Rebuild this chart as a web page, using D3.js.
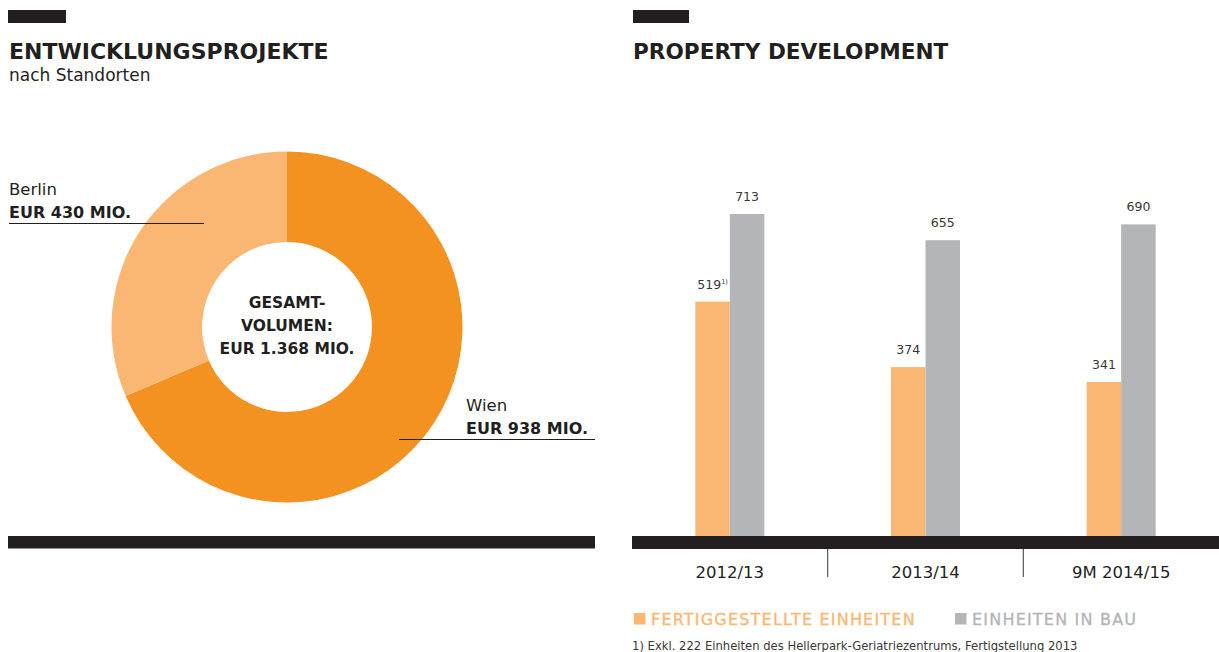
<!DOCTYPE html>
<html>
<head>
<meta charset="utf-8">
<script src="https://cdn.jsdelivr.net/npm/d3@7"></script>
<style>
  html, body { margin: 0; padding: 0; background: #fff; }
  svg { display: block; }
  text { font-family: "DejaVu Sans", sans-serif; fill: #231F20; }
</style>
</head>
<body>
<svg id="chart" width="1219" height="652"></svg>
<script>
// Development volume by location (EUR million)
const locations = ["Wien", "Berlin"];
const volumes = [938, 430];
const totalLabel = "EUR 1.368 MIO.";

// Property development units per period
const periods = ["2012/13", "2013/14", "9M 2014/15"];
const seriesNames = ["FERTIGGESTELLTE EINHEITEN", "EINHEITEN IN BAU"];
const completedUnits = [519, 374, 341];
const unitsUnderConstruction = [713, 655, 690];
const footnote = "1) Exkl. 222 Einheiten des Hellerpark-Geriatriezentrums, Fertigstellung 2013";

const DARK = "#231F20";
const ORANGE = "#F39220";
const LIGHT_ORANGE = "#F9B773";
const GREY = "#B4B5B9";

const svg = d3.select("#chart");

/* ---------- left panel: donut ---------- */
const left = svg.append("g");
left.append("rect").attr("x", 8).attr("y", 10).attr("width", 58).attr("height", 13).attr("fill", DARK);
left.append("text").attr("x", 9).attr("y", 59)
  .style("font-size", "22px").style("font-weight", "bold")
  .text("ENTWICKLUNGSPROJEKTE");
left.append("text").attr("x", 9).attr("y", 81)
  .style("font-size", "17px")
  .text("nach Standorten");

const cx = 287, cy = 327;
const pie = d3.pie().sort(null).value(d => d.value);
const arc = d3.arc().innerRadius(85).outerRadius(175.5);
const donutData = locations.map((name, i) => ({ name, value: volumes[i] }));
const colorScale = d3.scaleOrdinal().domain(locations).range([ORANGE, LIGHT_ORANGE]);

const donut = left.append("g").attr("transform", `translate(${cx},${cy})`);
donut.selectAll("path")
  .data(pie(donutData))
  .join("path")
  .attr("d", arc)
  .attr("fill", d => colorScale(d.data.name));

// centre total
const centreLines = ["GESAMT-", "VOLUMEN:", totalLabel];
donut.selectAll("text.centre")
  .data(centreLines)
  .join("text")
  .attr("class", "centre")
  .attr("text-anchor", "middle")
  .attr("x", 0)
  .attr("y", (d, i) => -19 + i * 23)
  .style("font-size", "15.5px").style("font-weight", "bold")
  .text(d => d);

// slice labels with leader rules
const fmt = v => `EUR ${v} MIO.`;
const labelSpec = [
  { name: "Berlin", x: 9, y: 195, line: [9, 204, 223.5] },
  { name: "Wien", x: 466, y: 411, line: [399, 595, 439.5] }
];
labelSpec.forEach(s => {
  const v = volumes[locations.indexOf(s.name)];
  left.append("text").attr("x", s.x).attr("y", s.y).style("font-size", "16.5px").text(s.name);
  left.append("text").attr("x", s.x).attr("y", s.y + 23)
    .style("font-size", "16px").style("font-weight", "bold").text(fmt(v));
  left.append("line")
    .attr("x1", s.line[0]).attr("x2", s.line[1])
    .attr("y1", s.line[2]).attr("y2", s.line[2])
    .attr("stroke", DARK).attr("stroke-width", 1);
});

left.append("rect").attr("x", 8).attr("y", 536).attr("width", 587).attr("height", 12.5).attr("fill", DARK);

/* ---------- right panel: grouped bars ---------- */
const right = svg.append("g");
right.append("rect").attr("x", 633).attr("y", 10).attr("width", 56).attr("height", 13).attr("fill", DARK);
right.append("text").attr("x", 633).attr("y", 59)
  .style("font-size", "21.6px").style("font-weight", "bold")
  .text("PROPERTY DEVELOPMENT");

const baseY = 536;
const x0 = d3.scaleBand().domain(periods).range([632, 1219]).padding(0);
const x1 = d3.scaleBand().domain(seriesNames).range([0, 69]);
const y = d3.scaleLinear().domain([0, 713]).range([baseY, 214]);
const seriesColor = d3.scaleOrdinal().domain(seriesNames).range([LIGHT_ORANGE, GREY]);

const rows = periods.map((p, i) => ({
  period: p,
  values: [
    { key: seriesNames[0], value: completedUnits[i], note: i === 0 ? "1)" : null },
    { key: seriesNames[1], value: unitsUnderConstruction[i], note: null }
  ]
}));

const groups = right.selectAll("g.period")
  .data(rows)
  .join("g")
  .attr("class", "period")
  .attr("transform", d => `translate(${x0(d.period) + x0.bandwidth() / 2 - 34.5},0)`);

groups.selectAll("rect")
  .data(d => d.values)
  .join("rect")
  .attr("x", d => x1(d.key))
  .attr("width", x1.bandwidth())
  .attr("y", d => y(d.value))
  .attr("height", d => baseY - y(d.value))
  .attr("fill", d => seriesColor(d.key));

const valueLabels = groups.selectAll("text.value")
  .data(d => d.values)
  .join("text")
  .attr("class", "value")
  .attr("text-anchor", "middle")
  .attr("x", d => x1(d.key) + x1.bandwidth() / 2)
  .attr("y", d => y(d.value) - 13)
  .style("font-size", "12.5px")
  .style("fill", "#3a3637");
valueLabels.append("tspan").text(d => d.value);
valueLabels.filter(d => d.note).append("tspan")
  .attr("dy", -5).style("font-size", "6.5px").text(d => d.note);

// axis band
right.append("rect").attr("x", 632).attr("y", baseY).attr("width", 587).attr("height", 13).attr("fill", DARK);

const axis = d3.axisBottom(x0).tickSize(0).tickPadding(0);
const axisG = right.append("g").attr("transform", `translate(0,${baseY + 13})`).call(axis);
axisG.select(".domain").remove();
axisG.selectAll("text")
  .attr("dy", null).attr("y", 29)
  .style("font-size", "16.5px")
  .style("font-family", "DejaVu Sans, sans-serif")
  .attr("fill", DARK);

// separators between periods
right.selectAll("line.sep")
  .data(periods.slice(1))
  .join("line")
  .attr("class", "sep")
  .attr("x1", d => x0(d)).attr("x2", d => x0(d))
  .attr("y1", baseY + 13).attr("y2", 577)
  .attr("stroke", "#555").attr("stroke-width", 1.2);

// legend
const legendPos = [634, 955];
const legend = right.selectAll("g.legend")
  .data(seriesNames)
  .join("g")
  .attr("class", "legend")
  .attr("transform", (d, i) => `translate(${legendPos[i]},613)`);
legend.append("rect").attr("width", 11.5).attr("height", 11.5).attr("fill", d => seriesColor(d));
legend.append("text").attr("x", 17).attr("y", 11.5)
  .style("font-size", "16px")
  .style("letter-spacing", "1.2px")
  .style("fill", d => seriesColor(d))
  .style("stroke", d => seriesColor(d))
  .style("stroke-width", "0.35px")
  .text(d => d);

right.append("text").attr("x", 632).attr("y", 650)
  .style("font-size", "11.6px").style("fill", "#3a3637")
  .text(footnote);
</script>
</body>
</html>
